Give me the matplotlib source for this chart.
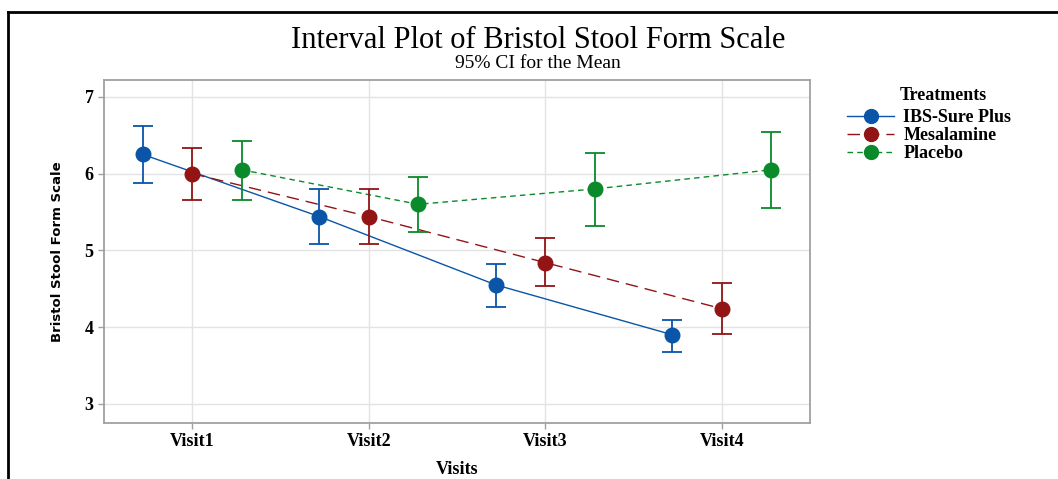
import matplotlib.pyplot as plt
import numpy as np
from matplotlib.lines import Line2D

# data
visits = ['Visit1', 'Visit2', 'Visit3', 'Visit4']
treatments = ['IBS-Sure Plus', 'Mesalamine', 'Placebo']

ibs_mean = [6.25, 5.44, 4.55, 3.90]
ibs_lo = [5.88, 5.08, 4.26, 3.68]
ibs_hi = [6.62, 5.80, 4.82, 4.09]

mes_mean = [6.00, 5.44, 4.84, 4.24]
mes_lo = [5.66, 5.08, 4.54, 3.91]
mes_hi = [6.33, 5.80, 5.16, 4.58]

pla_mean = [6.05, 5.60, 5.80, 6.05]
pla_lo = [5.66, 5.24, 5.32, 5.55]
pla_hi = [6.43, 5.95, 6.27, 6.54]

colors = ['#0A55A8', '#931414', '#0A8A2A']
styles = ['-', (0, (9, 5)), (0, (4, 3))]
offsets = [-0.28, 0.0, 0.28]

plt.rcParams['font.family'] = ['Liberation Serif', 'DejaVu Serif']

fig = plt.figure(figsize=(10.58, 4.79), dpi=100)
ax = fig.add_axes([104 / 1058, 1 - 423 / 479, 706 / 1058, 343 / 479])

x = np.arange(1, len(visits) + 1)
series = [(ibs_mean, ibs_lo, ibs_hi), (mes_mean, mes_lo, mes_hi),
          (pla_mean, pla_lo, pla_hi)]
for (m, lo, hi), c, ls, off in zip(series, colors, styles, offsets):
    m = np.array(m)
    err = [m - np.array(lo), np.array(hi) - m]
    ax.errorbar(x + off, m, yerr=err, fmt='none', ecolor=c, elinewidth=1.3,
                capsize=7, capthick=1.3, zorder=3)
    ax.plot(x + off, m, color=c, ls=ls, lw=1.0, zorder=2)
    ax.plot(x + off, m, 'o', color=c, ms=10.5, zorder=4)

ax.set_xlim(0.5, 4.5)
ax.set_ylim(2.75, 7.22)
ax.set_xticks(x)
ax.set_xticklabels(visits, fontweight='bold', fontsize=13)
ax.set_yticks([3, 4, 5, 6, 7])
ax.set_yticklabels(['3', '4', '5', '6', '7'], fontweight='bold', fontsize=13)
ax.grid(True, color='#e3e3e3', lw=1.0, zorder=0)
ax.set_axisbelow(True)
for s in ax.spines.values():
    s.set_color('#a0a0a0')
    s.set_linewidth(1.3)
ax.tick_params(colors='#a0a0a0', labelcolor='black', length=4, width=1)

ax.set_ylabel('Bristol Stool Form Scale', fontweight='bold', fontsize=9.5,
              family='DejaVu Sans', labelpad=15)
fig.text(457 / 1058, 1 - 469 / 479, 'Visits', fontweight='bold', fontsize=13,
         ha='center', va='center')

fig.text(538 / 1058, 1 - 37 / 479, 'Interval Plot of Bristol Stool Form Scale',
         ha='center', va='center_baseline', fontsize=22)
fig.text(538 / 1058, 1 - 61 / 479, '95% CI for the Mean',
         ha='center', va='center_baseline', fontsize=14)

handles = [Line2D([], [], color=c, ls=ls, lw=1.0, marker='o', ms=10)
           for c, ls in zip(colors, styles)]
leg = fig.legend(handles, treatments, loc='upper left',
                 bbox_to_anchor=(840 / 1058, 1 - 102 / 479), frameon=False,
                 prop={'weight': 'bold', 'size': 13}, handlelength=2.6,
                 handletextpad=0.5, labelspacing=0.05, borderaxespad=0)
fig.text(900 / 1058, 1 - 95 / 479, 'Treatments', fontweight='bold', fontsize=13,
         ha='left', va='center')

# outer black frame
fig.add_artist(Line2D([8 / 1058, 8 / 1058], [0, 1 - 12 / 479], color='black',
                      lw=2, transform=fig.transFigure))
fig.add_artist(Line2D([8 / 1058, 1], [1 - 12 / 479, 1 - 12 / 479], color='black',
                      lw=2, transform=fig.transFigure))

fig.savefig('out.png', dpi=100)
